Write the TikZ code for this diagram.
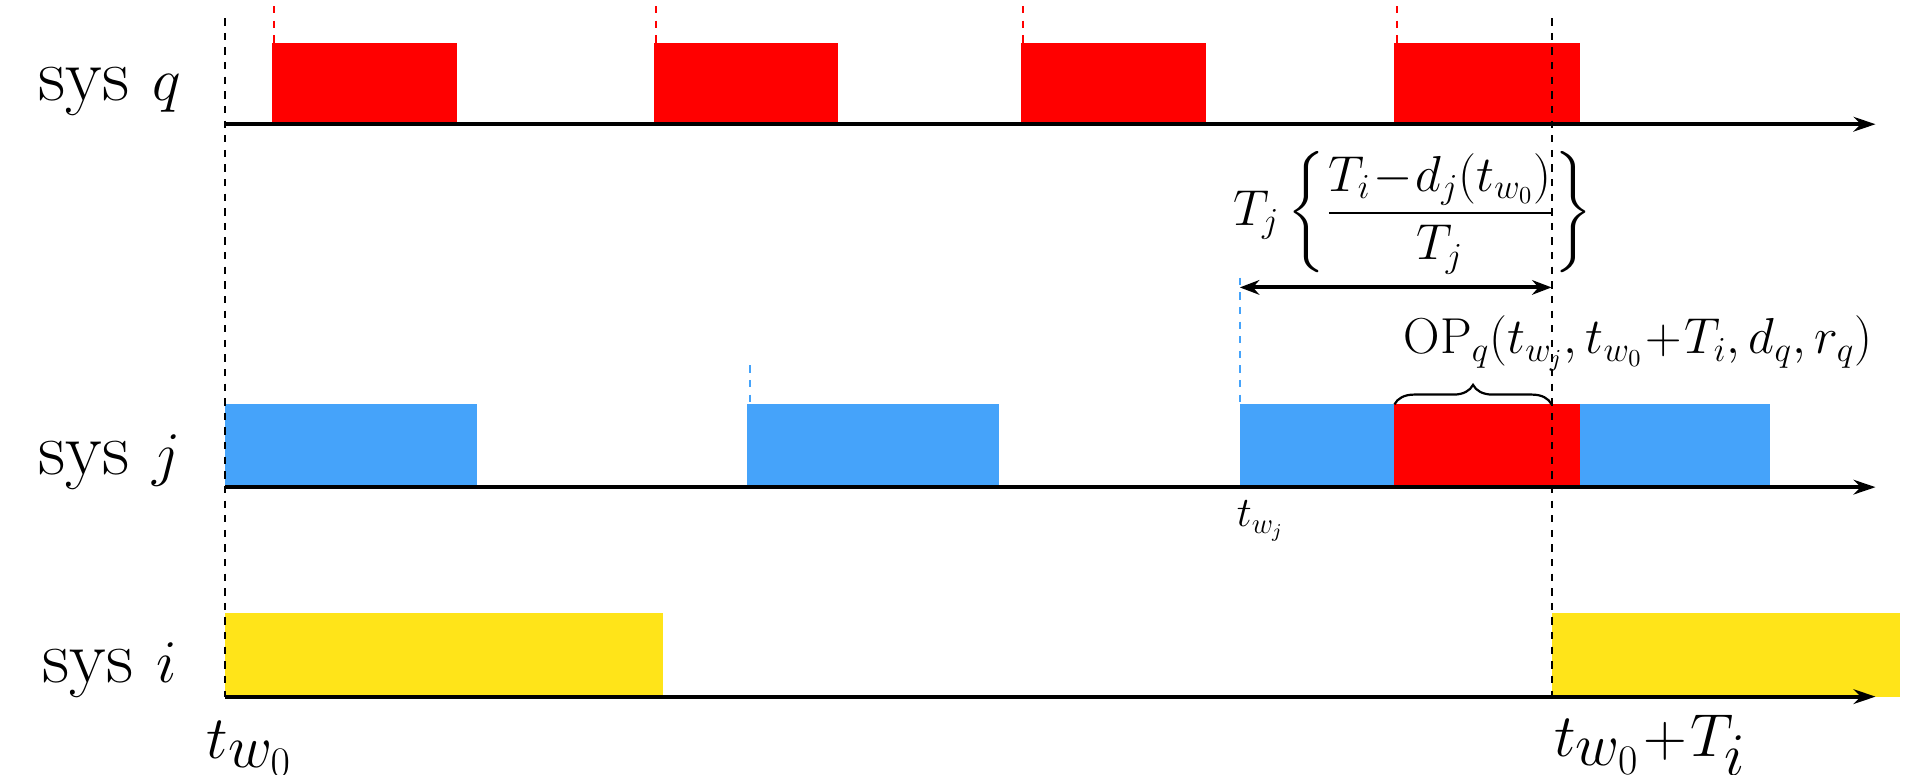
\documentclass[tikz,border=0pt]{standalone}
\usepackage{amsmath}
\usetikzlibrary{decorations.pathreplacing,arrows.meta}
\definecolor{qred}{HTML}{FF0000}
\definecolor{jblue}{HTML}{45A3FA}
\definecolor{iyel}{HTML}{FFE419}
\begin{document}
\begin{tikzpicture}[x=0.5pt,y=-0.5pt,
  axis/.style={line width=1.7pt,-{Stealth[length=9pt,width=6pt]}},
  vdash/.style={dashed,line width=0.8pt},
  lbl/.style={font=\fontsize{31}{35}\selectfont,inner sep=0pt},
  mlbl/.style={font=\fontsize{20.5}{24}\selectfont,inner sep=0pt}]
\useasboundingbox (0,0) rectangle (1565,636);
% boxes
\foreach \a/\b [count=\k] in {223/375,537/688,838/990,1145/1297}{
  \fill[qred] (\a,35) rectangle (\b,102);
  \draw[qred,vdash] (\a+2,5) -- (\a+2,35);}
\fill[jblue] (185,332) rectangle (392,400);
\fill[jblue] (613,332) rectangle (820,398);
\fill[jblue] (1018,332) rectangle (1145,400);
\fill[qred] (1145,332) rectangle (1297,400);
\fill[jblue] (1297,332) rectangle (1453,400);
\draw[jblue,vdash] (616,300) -- (616,332);
\draw[jblue,vdash] (1018,228) -- (1018,332);
\fill[iyel] (185,503) rectangle (544,572);
\fill[iyel] (1274,503) rectangle (1560,572);
% axes
\coordinate (q0) at (185,102); \coordinate (q1) at (1540,102);
\coordinate (j0) at (185,400); \coordinate (j1) at (1540,400);
\coordinate (i0) at (185,572); \coordinate (i1) at (1540,572);
\draw[axis] (q0) -- (q1);
\draw[axis] (j0) -- (j1);
\draw[axis] (i0) -- (i1);
\draw[vdash] (185,15) -- (185,572);
\draw[vdash] (1274,15) -- (1274,572);
% dimension
\coordinate (d0) at (1018,236); \coordinate (d1) at (1274,236);
\draw[line width=1.7pt,{Stealth[length=8pt,width=6pt]}-{Stealth[length=8pt,width=6pt]}] (d0) -- (d1);
\node[mlbl] (tj) at (1160,175) {$T_j\left\{\dfrac{T_i\!-\!d_j(t_{w_0})}{T_j}\right\}$};
\draw[decorate,decoration={brace,amplitude=8pt},line width=0.9pt] (1145,332) -- (1274,332);
\node[mlbl] (op) at (1345,282) {$\mathrm{OP}_q(t_{w_j},t_{w_0}\!+\!T_i,d_q,r_q)$};
% labels
\node[lbl] (sq) at (90,75) {sys $q$};
\node[lbl] (sj) at (90,380) {sys $j$};
\node[lbl] (si) at (90,550) {sys $i$};
\node[mlbl,font=\fontsize{17}{20}\selectfont] (twj) at (1035,428) {$t_{w_j}$};
\node[lbl,font=\fontsize{37}{40}\selectfont] (tw0) at (205,615) {$t_{w_0}$};
\node[lbl,font=\fontsize{36}{40}\selectfont] (tw0T) at (1355,612) {$t_{w_0}\!+\!T_i$};
\end{tikzpicture}
\end{document}
